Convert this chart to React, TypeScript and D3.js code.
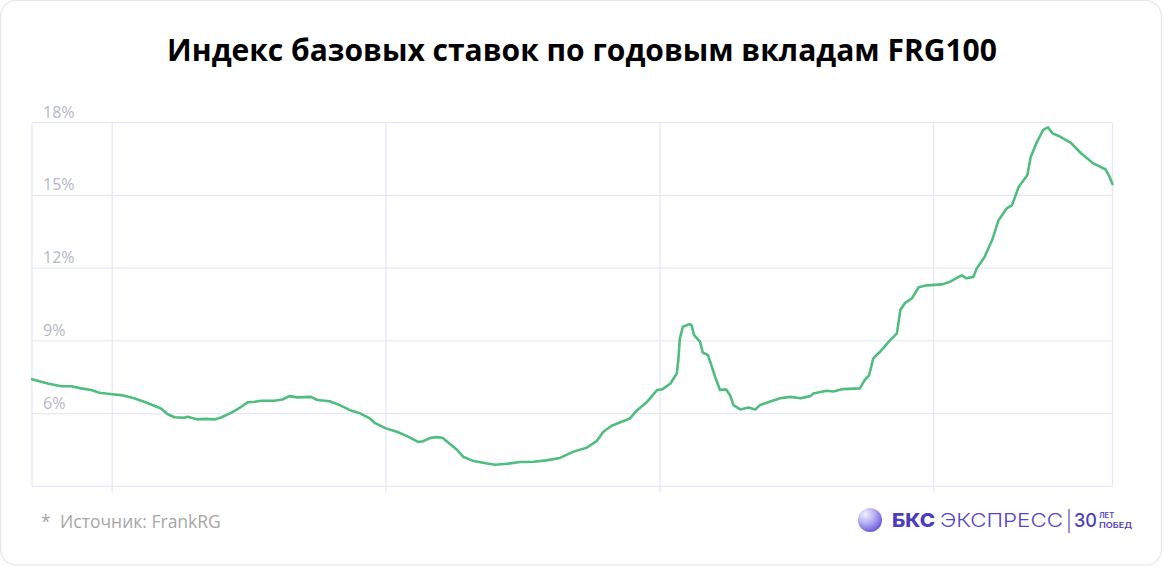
import React from "react";
import * as d3 from "d3";

const dates: string[] = [
  "2017-06-01","2017-07-13","2017-08-18","2017-09-14","2017-10-10","2017-11-06","2017-11-28",
  "2018-01-01","2018-01-30","2018-02-28","2018-03-27","2018-04-23","2018-05-11","2018-05-29",
  "2018-06-16","2018-07-12","2018-07-21","2018-08-17","2018-09-04","2018-10-01","2018-10-18",
  "2018-11-14","2018-12-11","2018-12-29","2019-01-16","2019-02-03","2019-03-09","2019-03-31",
  "2019-04-18","2019-05-10","2019-06-15","2019-07-02","2019-08-04","2019-08-31","2019-09-27",
  "2019-10-24","2019-11-19","2019-12-02","2020-01-01","2020-01-30","2020-02-25","2020-03-27",
  "2020-04-09","2020-04-27","2020-05-15","2020-05-31","2020-06-15","2020-07-07","2020-07-25",
  "2020-08-22","2020-09-27","2020-10-19","2020-11-19","2020-12-24","2021-01-29","2021-03-04",
  "2021-04-09","2021-05-14","2021-06-19","2021-07-16","2021-08-03","2021-08-25","2021-10-13",
  "2021-11-01","2021-11-28","2021-12-24","2022-01-07","2022-01-29","2022-02-15","2022-02-19",
  "2022-02-23","2022-03-03","2022-03-21","2022-03-26","2022-04-02","2022-04-18","2022-04-25",
  "2022-05-09","2022-05-18","2022-05-28","2022-06-10","2022-06-26","2022-07-07","2022-07-16",
  "2022-08-03","2022-08-25","2022-09-12","2022-09-25","2022-10-22","2022-11-18","2022-12-14",
  "2023-01-11","2023-02-06","2023-02-14","2023-03-21","2023-04-08","2023-05-04","2023-06-18",
  "2023-07-01","2023-07-13","2023-07-24","2023-08-11","2023-09-07","2023-09-25","2023-10-04",
  "2023-10-17","2023-11-04","2023-11-22","2023-12-14","2024-01-24","2024-02-14","2024-03-03",
  "2024-03-16","2024-03-28","2024-04-16","2024-04-25","2024-05-15","2024-06-05","2024-06-22",
  "2024-07-14","2024-07-28","2024-08-15","2024-09-07","2024-09-16","2024-10-03","2024-10-19",
  "2024-11-01","2024-11-13","2024-12-04","2025-01-01","2025-01-28","2025-03-02","2025-04-03",
  "2025-04-12","2025-04-22"
];

const rates: number[] = [
  7.42, 7.24, 7.13, 7.13, 7.04, 6.97, 6.86,
  6.80, 6.75, 6.63, 6.49, 6.32, 6.21, 5.97,
  5.85, 5.83, 5.87, 5.76, 5.78, 5.76, 5.84,
  6.03, 6.28, 6.47, 6.49, 6.53, 6.53, 6.58,
  6.72, 6.67, 6.69, 6.56, 6.51, 6.35, 6.14,
  6.01, 5.80, 5.62, 5.39, 5.25, 5.08, 4.83,
  4.86, 4.99, 5.03, 5.00, 4.81, 4.53, 4.22,
  4.04, 3.94, 3.89, 3.93, 4.00, 4.01, 4.07,
  4.17, 4.42, 4.59, 4.86, 5.25, 5.50, 5.80,
  6.14, 6.49, 6.97, 7.00, 7.24, 7.66, 8.21,
  9.10, 9.58, 9.69, 9.65, 9.24, 8.96, 8.52,
  8.41, 8.00, 7.52, 6.97, 7.00, 6.76, 6.35,
  6.17, 6.25, 6.17, 6.35, 6.50, 6.63, 6.69,
  6.63, 6.72, 6.83, 6.94, 6.91, 7.01, 7.04,
  7.38, 7.59, 8.28, 8.55, 9.03, 9.31, 10.27,
  10.57, 10.75, 11.21, 11.29, 11.33, 11.44, 11.60,
  11.70, 11.58, 11.64, 11.99, 12.44, 13.16, 13.98,
  14.47, 14.60, 15.36, 15.84, 16.60, 17.22, 17.70,
  17.81, 17.56, 17.42, 17.17, 16.74, 16.32, 16.08,
  15.84, 15.47
];

const yTicks: number[] = [6, 9, 12, 15, 18];
const xGridYears: string[] = ["2018-01-01", "2020-01-01", "2022-01-01", "2024-01-01"];

const title = "Индекс базовых ставок по годовым вкладам FRG100";
const source = "Источник: FrankRG";

const W = 1164;
const H = 567;
const margin = { left: 32, right: 51.5, top: 122.7, bottom: 80.7 };

export default function App() {
  const parse = d3.timeParse("%Y-%m-%d");
  const data = dates.map((d, i) => ({ date: parse(d) as Date, v: rates[i] }));
  const x = d3
    .scaleTime()
    .domain(d3.extent(data, (d) => d.date) as [Date, Date])
    .range([margin.left, W - margin.right]);
  const y = d3
    .scaleLinear()
    .domain([3, 18])
    .range([H - margin.bottom, margin.top]);

  const line = d3
    .line<{ date: Date; v: number }>()
    .x((d) => x(d.date))
    .y((d) => y(d.v));

  const x0 = x.range()[0];
  const x1 = x.range()[1];
  const yb = y(3);
  const yt = y(18);
  const gridColor = "#e6e8f8";

  return (
    <svg
      width={W}
      height={H}
      style={{ position: "absolute", left: 0, top: 0, display: "block" }}
      fontFamily="'Open Sans', sans-serif"
    >
      <defs>
        <radialGradient id="sph" cx="0.35" cy="0.3" r="0.8" fx="0.3" fy="0.25">
          <stop offset="0" stopColor="#f1efff" />
          <stop offset="0.45" stopColor="#b9b2f3" />
          <stop offset="1" stopColor="#5a4bd6" />
        </radialGradient>
      </defs>
      <rect x={0.5} y={0.5} width={1161} height={564.5} rx={16} fill="#ffffff" stroke="#e6e6e6" strokeWidth={1.2} />

      <text x={582} y={61} textAnchor="middle" fontSize={30} fontWeight={700} fill="#000">
        {title}
      </text>

      {/* horizontal grid */}
      {yTicks.map((t) => (
        <line key={"h" + t} x1={x0} x2={x1} y1={y(t)} y2={y(t)} stroke={gridColor} strokeWidth={1.3} />
      ))}
      <line x1={x0} x2={x1} y1={yb} y2={yb} stroke={gridColor} strokeWidth={1.3} />
      {/* vertical grid */}
      <line x1={x0} x2={x0} y1={yt} y2={yb} stroke={gridColor} strokeWidth={1.3} />
      <line x1={x1} x2={x1} y1={yt} y2={yb} stroke={gridColor} strokeWidth={1.3} />
      {xGridYears.map((s) => {
        const xx = x(parse(s) as Date);
        return <line key={s} x1={xx} x2={xx} y1={yt} y2={yb + 6} stroke={gridColor} strokeWidth={1.3} />;
      })}

      {yTicks.map((t) => (
        <text key={"l" + t} x={43} y={y(t) - 5} fontSize={16} fill="#b5b7c6">
          {t + "%"}
        </text>
      ))}

      <path d={line(data) || ""} fill="none" stroke="#4fbd7d" strokeWidth={2.6} strokeLinejoin="round" strokeLinecap="round" />

      {/* footer */}
      <text x={41} y={528} fontSize={17.5} fill="#a6a6a6">*</text>
      <text x={60} y={528} fontSize={17.5} fill="#a6a6a6">{source}</text>

      {/* logo */}
      <circle cx={870} cy={520} r={12} fill="url(#sph)" />
      <text x={892} y={527} fontSize={19} fontWeight={800} fill="#4b3dbd" fontFamily="Inter, sans-serif" textLength={43} lengthAdjust="spacingAndGlyphs">БКС</text>
      <text x={940} y={527} fontSize={19} fontWeight={300} fill="#5546c9" fontFamily="Inter, sans-serif" textLength={123} lengthAdjust="spacingAndGlyphs">ЭКСПРЕСС</text>
      <line x1={1069} x2={1069} y1={509} y2={533} stroke="#5546c9" strokeWidth={1.2} />
      <text x={1074} y={527} fontSize={19} fontWeight={500} fill="#4b3dbd" fontFamily="Inter, sans-serif" textLength={23} lengthAdjust="spacingAndGlyphs">30</text>
      <text x={1099} y={518} fontSize={7.5} fontWeight={600} fill="#4b3dbd" fontFamily="Inter, sans-serif">ЛЕТ</text>
      <text x={1099} y={527.5} fontSize={7.5} fontWeight={600} fill="#4b3dbd" fontFamily="Inter, sans-serif" textLength={33} lengthAdjust="spacingAndGlyphs">ПОБЕД</text>
    </svg>
  );
}
